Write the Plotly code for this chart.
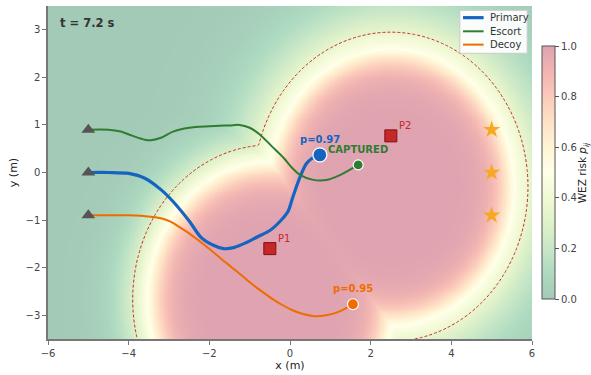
import numpy as np
import plotly.graph_objects as go

# ---- scene data -------------------------------------------------------------
time_label = "t = 7.2 s"

# agent trajectories (x, y in metres)
primary_x = [-5.0, -4.5, -4.0, -3.6, -3.2, -2.9, -2.5, -2.2, -1.9, -1.65, -1.4,
             -1.1, -0.8, -0.5, -0.25, -0.05, 0.05, 0.15, 0.25, 0.4, 0.55, 0.74]
primary_y = [0.0, 0.0, -0.02, -0.12, -0.36, -0.61, -1.02, -1.37, -1.53, -1.6, -1.58,
             -1.48, -1.35, -1.22, -1.03, -0.82, -0.57, -0.32, -0.09, 0.18, 0.3, 0.37]

escort_x = [-5.0, -4.5, -4.2, -3.9, -3.6, -3.45, -3.2, -2.9, -2.5, -2.0, -1.5,
            -1.25, -1.0, -0.75, -0.45, -0.15, 0.05, 0.25, 0.55, 0.9, 1.25, 1.69]
escort_y = [0.9, 0.9, 0.86, 0.77, 0.69, 0.68, 0.73, 0.86, 0.94, 0.97, 0.99,
            1.0, 0.94, 0.8, 0.55, 0.3, 0.1, -0.05, -0.15, -0.16, -0.05, 0.16]

decoy_x = [-5.0, -4.5, -4.0, -3.7, -3.45, -3.2, -2.95, -2.7, -2.45, -2.2, -1.95, -1.7,
           -1.45, -1.2, -0.95, -0.7, -0.45, -0.2, 0.05, 0.3, 0.6, 0.9, 1.2, 1.56]
decoy_y = [-0.9, -0.9, -0.9, -0.91, -0.93, -0.96, -1.04, -1.17, -1.31, -1.47, -1.64, -1.82,
           -1.99, -2.16, -2.34, -2.5, -2.65, -2.78, -2.89, -2.97, -3.02, -3.0, -2.93, -2.77]

agent_names = ["Primary", "Escort", "Decoy"]
end_labels = ["p=0.97", "CAPTURED", "p=0.95"]

# start positions and goal positions
start_x = [-5.0, -5.0, -5.0]
start_y = [0.9, 0.0, -0.9]
goal_x = [5.0, 5.0, 5.0]
goal_y = [0.9, 0.0, -0.9]

# pursuers
pursuer_names = ["P1", "P2"]
pursuer_x = [-0.5, 2.5]
pursuer_y = [-1.6, 0.77]

# weapon-engagement-zone model: ellipse shifted from each pursuer
wez_shift_y = -1.07
wez_a = 3.4
wez_b = 3.25
wez_rho0 = 0.895         # normalised radius where risk = 0.5
wez_soft_in = 0.08       # softness inside the zone
wez_soft_out = [0.12, 0.18]  # softness outside the zone, per pursuer

# ---- styles -----------------------------------------------------------------
FONT = "DejaVu Sans"
agent_colors = ["#1565c0", "#2e7d32", "#ef6c00"]
agent_widths = [3.2, 2.0, 2.0]
end_sizes = [14, 10, 11]
RED = "#c62828"

# ---- risk field -------------------------------------------------------------
gx = np.linspace(-6, 6, 301)
gy = np.linspace(-3.5, 3.5, 176)
X, Y = np.meshgrid(gx, gy)

risk = np.zeros_like(X)
rho_min = np.full_like(X, np.inf)
for px, py, w_out in zip(pursuer_x, pursuer_y, wez_soft_out):
    cx, cy = px, py + wez_shift_y
    rho = np.sqrt(((X - cx) / wez_a) ** 2 + ((Y - cy) / wez_b) ** 2)
    w = np.where(rho < wez_rho0, wez_soft_in, w_out)
    p = 1.0 / (1.0 + np.exp((rho - wez_rho0) / w))
    risk = np.maximum(risk, p)
    rho_min = np.minimum(rho_min, rho)

# RdYlGn (reversed) washed out over white
rdylgn = ["#a50026", "#d73027", "#f46d43", "#fdae61", "#fee08b", "#ffffbf",
          "#d9ef8b", "#a6d96a", "#66bd63", "#1a9850", "#006837"][::-1]
alpha = 0.36


def wash(hex_color):
    r, g, b = (int(hex_color[i:i + 2], 16) for i in (1, 3, 5))
    mix = [round(alpha * c + (1 - alpha) * 255) for c in (r, g, b)]
    return "rgb({},{},{})".format(*mix)


colorscale = [[i / (len(rdylgn) - 1), wash(c)] for i, c in enumerate(rdylgn)]

fig = go.Figure()

fig.add_trace(go.Heatmap(
    x=gx, y=gy, z=risk, zmin=0, zmax=1, zsmooth="best",
    colorscale=colorscale, hoverinfo="skip", showlegend=False,
    colorbar=dict(
        thickness=13, len=0.76, lenmode="fraction", y=0.5, yanchor="middle",
        x=1.0207, xanchor="left", xpad=0, ypad=0,
        outlinewidth=1, outlinecolor="#555",
        ticks="outside", ticklen=4, tickcolor="#555",
        tickvals=[0, 0.2, 0.4, 0.6, 0.8, 1.0], tickformat=".1f",
        tickfont=dict(family=FONT, size=10, color="#444"),
    ),
))

# colorbar caption
fig.add_annotation(xref="paper", yref="paper", x=1.105, y=0.5,
                   text="WEZ risk <i>p</i><sub><i>ij</i></sub>", textangle=-90,
                   showarrow=False, xanchor="center", yanchor="middle",
                   font=dict(family=FONT, size=10.5, color="#222"))

# WEZ boundary
fig.add_trace(go.Contour(
    x=gx, y=gy, z=rho_min,
    contours=dict(start=1.0, end=1.0, size=1.0, coloring="lines"),
    colorscale=[[0, RED], [1, RED]], showscale=False,
    line=dict(width=1, dash="3px,2px", smoothing=1),
    hoverinfo="skip", showlegend=False,
))

# trajectories
trajs = [(primary_x, primary_y), (escort_x, escort_y), (decoy_x, decoy_y)]
for (tx, ty), name, col, lw in zip(trajs, agent_names, agent_colors, agent_widths):
    fig.add_trace(go.Scatter(
        x=tx, y=ty, mode="lines", name=name, showlegend=False,
        line=dict(color=col, width=lw, shape="spline", smoothing=0.8),
    ))

# start markers
fig.add_trace(go.Scatter(
    x=start_x, y=start_y, mode="markers", showlegend=False,
    marker=dict(symbol="triangle-up", size=12, color="#555555"),
))

# goals
fig.add_trace(go.Scatter(
    x=goal_x, y=goal_y, mode="markers", showlegend=False,
    marker=dict(symbol="star", size=13, color="#f7a823",
                line=dict(color="#f7a823", width=0)),
))

# pursuers
fig.add_trace(go.Scatter(
    x=pursuer_x, y=pursuer_y, mode="markers", showlegend=False,
    marker=dict(symbol="square", size=12, color=RED,
                line=dict(color="#7f1010", width=1)),
))
for name, px, py in zip(pursuer_names, pursuer_x, pursuer_y):
    fig.add_annotation(x=px, y=py, text=name, showarrow=False,
                       xanchor="left", yanchor="bottom", xshift=6, yshift=3,
                       font=dict(family=FONT, size=10, color=RED))

# current positions + labels
for (tx, ty), col, size, lab in zip(trajs, agent_colors, end_sizes, end_labels):
    fig.add_trace(go.Scatter(
        x=[tx[-1]], y=[ty[-1]], mode="markers", showlegend=False,
        marker=dict(symbol="circle", size=size, color=col,
                    line=dict(color="white", width=1.2)),
    ))
    fig.add_annotation(x=tx[-1], y=ty[-1], text="<b>" + lab + "</b>",
                       showarrow=False, yanchor="bottom", yshift=8,
                       font=dict(family=FONT, size=10, color=col))

fig.add_annotation(xref="x domain", yref="y domain", x=0.02, y=0.975,
                   text="<b>" + time_label + "</b>", showarrow=False,
                   xanchor="left", yanchor="top",
                   font=dict(family=FONT, size=11.5, color="#333"))

# compact legend box (axes-domain coordinates)
leg_x0, leg_x1, leg_y0, leg_y1 = 0.851, 0.990, 0.858, 0.987
leg_rows = [0.965, 0.924, 0.884]
fig.add_shape(type="rect", xref="x domain", yref="y domain",
              x0=leg_x0, x1=leg_x1, y0=leg_y0, y1=leg_y1,
              fillcolor="rgba(255,255,255,0.92)", line=dict(color="#cccccc", width=1))
for name, col, lw, ry in zip(agent_names, agent_colors, agent_widths, leg_rows):
    fig.add_shape(type="line", xref="x domain", yref="y domain",
                  x0=0.8575, x1=0.9, y0=ry, y1=ry,
                  line=dict(color=col, width=lw))
    fig.add_annotation(xref="x domain", yref="y domain", x=0.91, y=ry,
                       text=name, showarrow=False, xanchor="left", yanchor="middle",
                       font=dict(family=FONT, size=10, color="#333"))

axis_common = dict(showgrid=False, zeroline=False, showline=True,
                   linecolor="#777", linewidth=1.5, ticks="outside",
                   ticklen=4, tickcolor="#777",
                   tickfont=dict(family=FONT, size=10, color="#444"))

fig.update_layout(
    width=591, height=375,
    margin=dict(l=48, r=59, t=6, b=36, autoexpand=False),
    paper_bgcolor="white", plot_bgcolor="white",
    font=dict(family=FONT, color="#333"),
    showlegend=False,
    xaxis=dict(range=[-6, 6], tickvals=[-6, -4, -2, 0, 2, 4, 6],
               title=dict(text="x (m)", font=dict(family=FONT, size=11, color="#222"),
                          standoff=4),
               **axis_common),
    yaxis=dict(range=[-3.5, 3.5], tickvals=[-3, -2, -1, 0, 1, 2, 3],
               title=dict(text="y (m)", font=dict(family=FONT, size=11, color="#222"),
                          standoff=6),
               **axis_common),
)

fig.write_html("out.html")
